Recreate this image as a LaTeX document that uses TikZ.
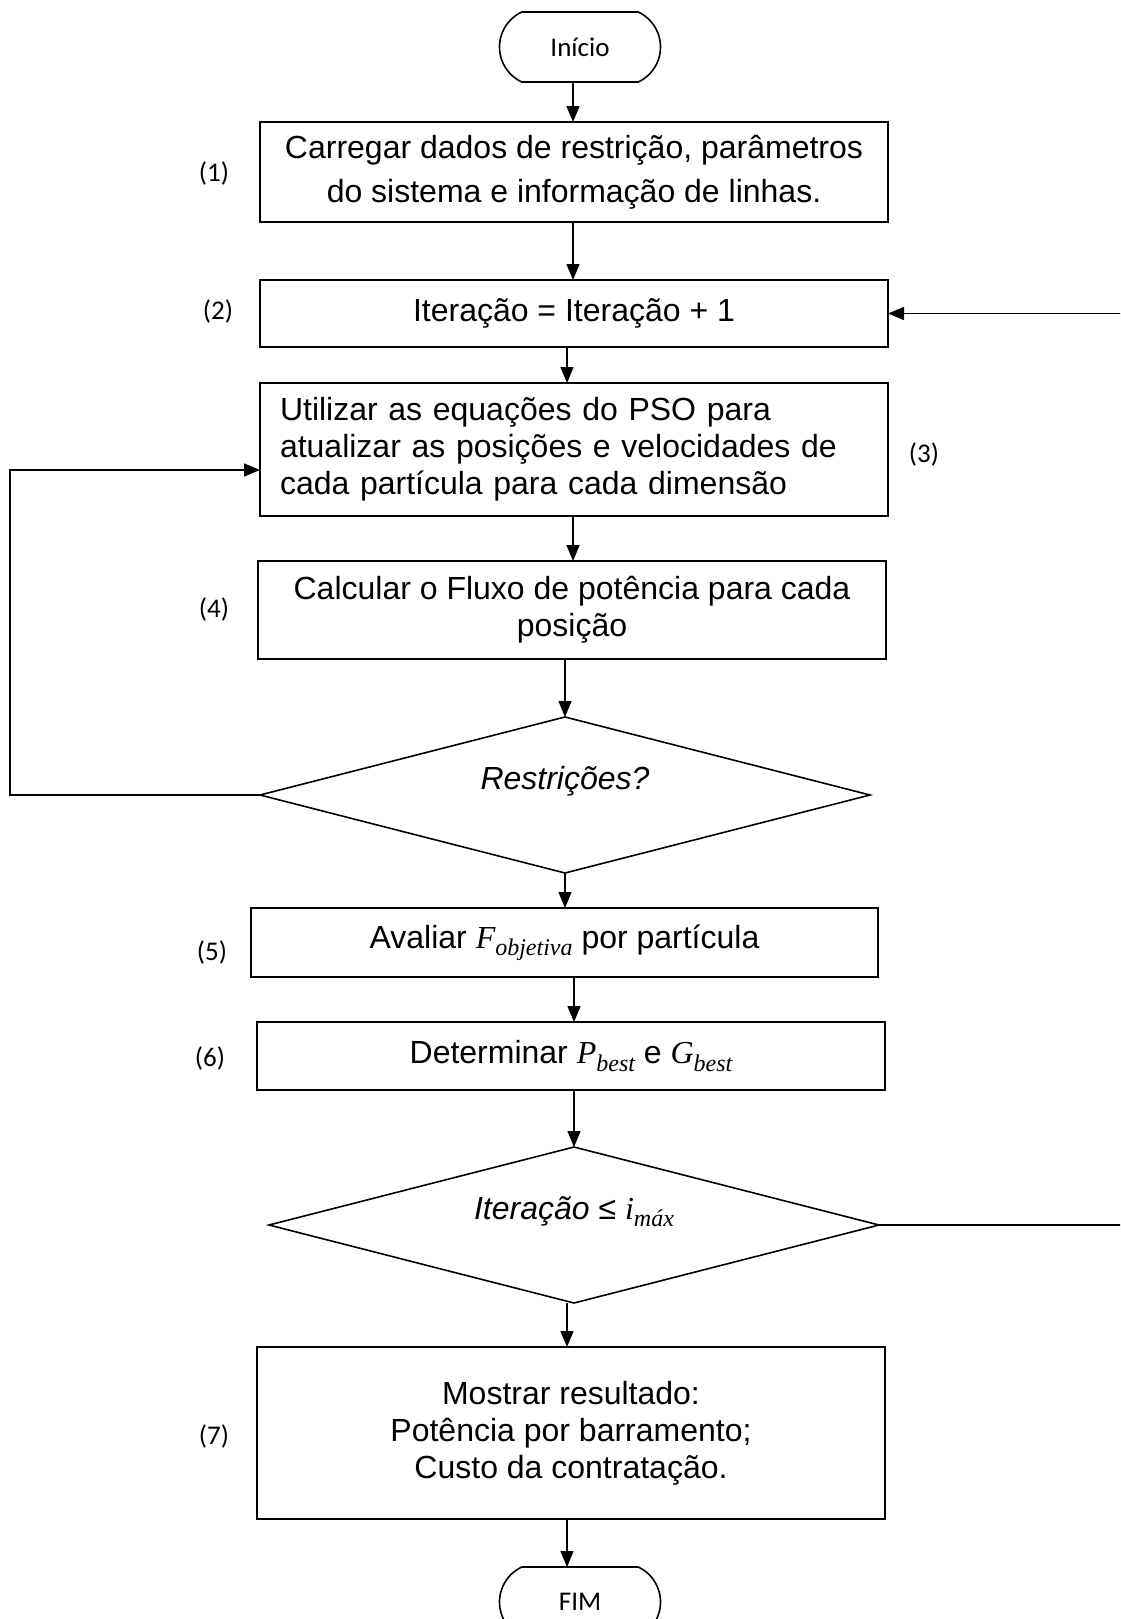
\documentclass[tikz,border=0pt]{standalone}
\usepackage{fontspec}
\setmainfont{Liberation Sans}
\newfontfamily\calibri{Carlito}
\newfontfamily\mathser{Liberation Serif}
\newcommand\mvar[2]{{\mathser\itshape #1}\raisebox{-0.22em}{\mathser\itshape\fontsize{24}{24}\selectfont #2}}
\usetikzlibrary{shapes.geometric,shapes.misc,arrows.meta}
\begin{document}
\begin{tikzpicture}[x=1pt,y=-1pt,
  every node/.style={inner sep=0pt, outer sep=0pt},
  procbox/.style={draw, line width=1.6pt, minimum width=628pt, font=\fontsize{32}{37}\selectfont, align=center},
  termbox/.style={draw, line width=1.6pt, rounded rectangle, rounded rectangle arc length=130, minimum width=161pt, minimum height=70pt, font=\calibri\fontsize{27}{32}\selectfont},
  decbox/.style={draw, line width=1.6pt, diamond, minimum width=610pt, minimum height=156pt},
  dectext/.style={font=\itshape\fontsize{32}{37}\selectfont},
  numlabel/.style={font=\calibri\fontsize{27}{32}\selectfont},
  arr/.style={-{Triangle[length=16pt,width=13pt]}, line width=1.4pt},
  link/.style={line width=1.4pt}
]
\useasboundingbox (0,0) rectangle (1120,1619);
\clip (0,0) rectangle (1120,1619);

\node[termbox] (start) at (580,47) {Início};
\node[procbox, minimum height=100pt, font=\fontsize{32}{43.5}\selectfont] (b1) at (574,172)
  {Carregar dados de restrição, parâmetros\\do sistema e informação de linhas.};
\node[numlabel] (l1) at (214,173) {(1)};
\node[procbox, minimum height=67pt] (b2) at (574,313.5) {Iteração = Iteração + 1};
\node[numlabel] (l2) at (218,311) {(2)};
\node[procbox, minimum height=133pt, text width=588pt, align=left] (b3) at (574,449.5)
  {Utilizar as equações do PSO para\\atualizar as posições e velocidades de\\cada partícula para cada dimensão};
\node[numlabel] (l3) at (924,454) {(3)};
\node[procbox, minimum height=98pt] (b4) at (572,610)
  {Calcular o Fluxo de potência para cada\\posição};
\node[numlabel] (l4) at (214,609) {(4)};
\node[decbox] (d1) at (565,795) {};
\node[dectext] (t1) at (565,781) {Restrições?};
\node[procbox, minimum width=627pt, minimum height=69pt] (b5) at (564.5,942.5)
  {Avaliar \mvar{F}{objetiva} por partícula};
\node[numlabel] (l5) at (212,952) {(5)};
\node[procbox, minimum height=68pt] (b6) at (571,1056)
  {Determinar \mvar{P}{best} e \mvar{G}{best}};
\node[numlabel] (l6) at (210,1058) {(6)};
\node[decbox] (d2) at (574,1225) {};
\node[dectext] (t2) at (574,1212) {Iteração {\upshape ≤} \mvar{i}{máx}};
\node[procbox, minimum height=172pt] (b7) at (571,1433)
  {Mostrar resultado:\\Potência por barramento;\\Custo da contratação.};
\node[numlabel] (l7) at (214,1436) {(7)};
\node[termbox] (end) at (580,1602) {FIM};

\coordinate (xa) at (573,0);
\coordinate (xb) at (567,0);
\coordinate (xc) at (565,0);
\coordinate (xd) at (574,0);
\coordinate (lx) at (10,0);
\coordinate (rx) at (1135,0);

\draw[arr] (start.south -| xa) -- (b1.north -| xa);
\draw[arr] (b1.south -| xa) -- (b2.north -| xa);
\draw[arr] (b2.south -| xb) -- (b3.north -| xb);
\draw[arr] (b3.south -| xa) -- (b4.north -| xa);
\draw[arr] (b4.south -| xc) -- (d1.north);
\draw[arr] (d1.south) -- (b5.north -| xc);
\draw[arr] (b5.south -| xd) -- (b6.north -| xd);
\draw[arr] (b6.south -| xd) -- (d2.north);
\draw[arr] (d2.south -| xb) -- (b7.north -| xb);
\draw[arr] (b7.south -| xb) -- (end.north -| xb);

\draw[arr] (d1.west) -- (d1.west -| lx) -- (lx |- 0,470) -- (b3.west |- 0,470);
\draw[arr] (d2.east) -- (d2.east -| rx) -- (rx |- b2.east) -- (b2.east);
\end{tikzpicture}
\end{document}
